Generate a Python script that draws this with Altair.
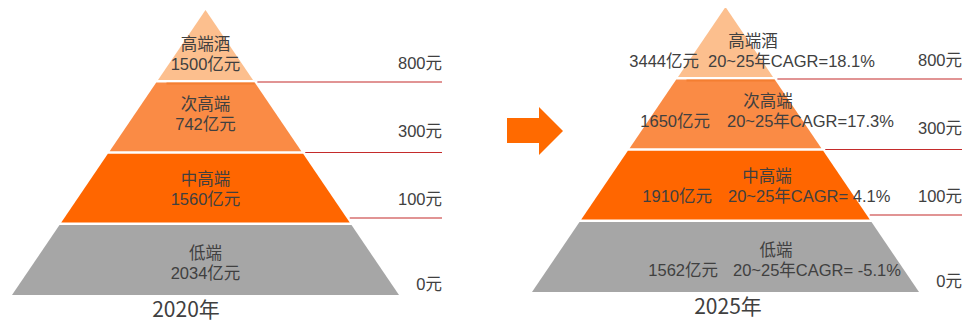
import altair as alt
import pandas as pd

# ---------------- data ----------------
tiers = ["高端酒", "次高端", "中高端", "低端"]
size_2020 = [1500, 742, 1560, 2034]          # 亿元
size_2025 = [3444, 1650, 1910, 1562]         # 亿元
cagr_20_25 = [18.1, 17.3, 4.1, -5.1]         # %
price_labels = ["800元", "300元", "100元", "0元"]
years = ["2020年", "2025年"]

# ---------------- style / layout ----------------
tier_colors = ["#FCBF8E", "#FA8B45", "#FF6600", "#A6A6A6"]
text_color = "#404040"
red = "#C42B2B"
FONT = "'Liberation Sans', 'Noto Sans CJK SC', sans-serif"
CJK = "'Noto Sans CJK SC', sans-serif"
FS = 16.5

pyramids = [dict(cx=205.5, apex=10.0), dict(cx=725.5, apex=7.0)]
H = 285.0        # pyramid height
HALF = 193.5     # half base width
GAP = 1.3        # half white gap between layers
n = len(tiers)

name_dy = [35, 95, 170, 244]
right_name_dx = [27.5, 42.5, 41.5, 50.5]
right_amt_end = [-26.5, -15.5, -13.5, -7.5]
right_cagr_start = [-17.5, 1.5, 2.5, 7.5]
price_dy = [54, 122, 190, 275]
line_dy = [72, 142.5, 208]
label_right = 236.5
year_pos = [(-19.5, 300.5), (2.5, 301)]

# ---------------- build tables ----------------
area_rows = []
for p, pyr in enumerate(pyramids):
    for i, t in enumerate(tiers):
        y0 = pyr["apex"] + i * H / n + (GAP if i > 0 else 0)
        y1 = pyr["apex"] + (i + 1) * H / n - (GAP if i < n - 1 else 0)
        for y in (y0, y1):
            hw = (y - pyr["apex"]) / H * HALF
            area_rows.append(dict(grp=f"{p}-{i}", tier=t, y=y,
                                  xl=pyr["cx"] - hw, xr=pyr["cx"] + hw))
area_df = pd.DataFrame(area_rows)

center_text = []   # centered text
left_text = []     # left aligned
right_text = []    # right aligned
for p, pyr in enumerate(pyramids):
    cx, ap = pyr["cx"], pyr["apex"]
    for i, t in enumerate(tiers):
        if p == 0:
            center_text.append(dict(x=cx, y=ap + name_dy[i], txt=t))
            center_text.append(dict(x=cx, y=ap + name_dy[i] + 20,
                                    txt=f"{size_2020[i]}亿元"))
        else:
            center_text.append(dict(x=cx + right_name_dx[i], y=ap + name_dy[i], txt=t))
            right_text.append(dict(x=cx + right_amt_end[i], y=ap + name_dy[i] + 20,
                                   txt=f"{size_2025[i]}亿元"))
            c = cagr_20_25[i]
            sep = "" if abs(c) >= 10 else " "
            left_text.append(dict(x=cx + right_cagr_start[i], y=ap + name_dy[i] + 20,
                                  txt=f"20~25年CAGR={sep}{c}%"))
    for i, lab in enumerate(price_labels):
        right_text.append(dict(x=cx + label_right, y=ap + price_dy[i], txt=lab))

center_df = pd.DataFrame(center_text)
left_df = pd.DataFrame(left_text)
right_df = pd.DataFrame(right_text)

line_rows = []
deco_rows = []
year_rows = []
for p, pyr in enumerate(pyramids):
    cx, ap = pyr["cx"], pyr["apex"]
    for dy in line_dy:
        edge = cx + dy / H * HALF
        line_rows.append(dict(x=edge + 3, x2=cx + label_right, y=ap + dy))
    deco_rows.append(dict(x=cx - 39, x2=cx + 49, y=ap + 73.5))
    year_rows.append(dict(x=cx + year_pos[p][0], y=ap + year_pos[p][1], txt=years[p]))
line_df = pd.DataFrame(line_rows)
deco_df = pd.DataFrame(deco_rows)
year_df = pd.DataFrame(year_rows)

arrow_shaft = pd.DataFrame([dict(x=507, x2=539.5, y=118, y2=143)])
arrow_head = pd.DataFrame([dict(x=539, y=107, y2=155), dict(x=563, y=131, y2=131)])

# ---------------- scales ----------------
xs = alt.Scale(domain=[8, 964], nice=False, zero=False)
ys = alt.Scale(domain=[8, 322], nice=False, zero=False, reverse=True)

def X(f):
    return alt.X(f, type="quantitative", scale=xs, axis=None)

def Y(f):
    return alt.Y(f, type="quantitative", scale=ys, axis=None)

layers_area = alt.Chart(area_df).mark_area(orient="horizontal", opacity=1).encode(
    y=Y("y"), x=X("xl"), x2="xr", detail="grp:N",
    color=alt.Color("tier:N", scale=alt.Scale(domain=tiers, range=tier_colors), legend=None),
)

deco = alt.Chart(deco_df).mark_rule(color="#F37A2C", strokeWidth=2, opacity=0.8).encode(
    x=X("x"), x2="x2", y=Y("y"))

lines = alt.Chart(line_df).mark_rule(color=red, strokeWidth=1.2).encode(
    x=X("x"), x2="x2", y=Y("y"))

txt_c = alt.Chart(center_df).mark_text(align="center", baseline="middle", font=FONT,
                                        fontSize=FS, color=text_color).encode(
    x=X("x"), y=Y("y"), text="txt:N")
txt_l = alt.Chart(left_df).mark_text(align="left", baseline="middle", font=FONT,
                                      fontSize=FS, color=text_color).encode(
    x=X("x"), y=Y("y"), text="txt:N")
txt_r = alt.Chart(right_df).mark_text(align="right", baseline="middle", font=FONT,
                                       fontSize=FS, color=text_color).encode(
    x=X("x"), y=Y("y"), text="txt:N")
txt_year = alt.Chart(year_df).mark_text(align="center", baseline="middle", font=CJK,
                                         fontSize=21, color=text_color).encode(
    x=X("x"), y=Y("y"), text="txt:N")

shaft = alt.Chart(arrow_shaft).mark_rect(color="#FF6A00").encode(
    x=X("x"), x2="x2", y=Y("y"), y2="y2")
head = alt.Chart(arrow_head).mark_area(orient="vertical", color="#FF6A00", opacity=1).encode(
    x=X("x"), y=Y("y"), y2="y2")

chart = alt.layer(layers_area, deco, lines, shaft, head, txt_c, txt_l, txt_r, txt_year).properties(
    width=956, height=314, padding=0, autosize="none", background="white"
).configure_view(stroke=None)

chart.save("out.html", embed_options={"renderer": "svg", "actions": False})
